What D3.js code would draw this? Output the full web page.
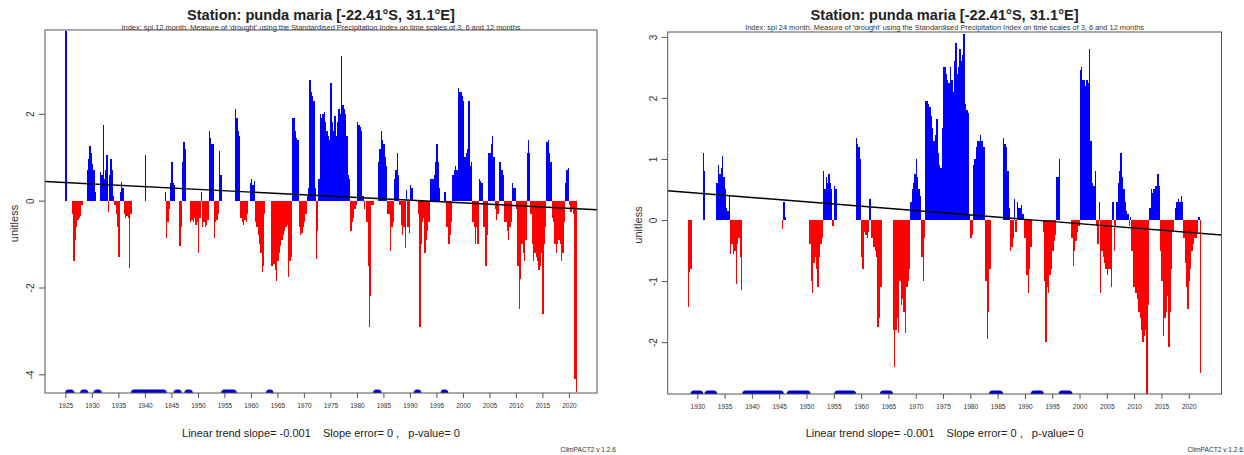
<!DOCTYPE html>
<html>
<head>
<meta charset="utf-8">
<script src="https://cdn.jsdelivr.net/npm/d3@7"></script>
<style>
  body { margin: 0; background: #fff; }
  svg { font-family: "Liberation Sans", Arial, sans-serif; }
</style>
</head>
<body>
<svg id="chart" width="1244" height="455"></svg>
<script>
// texts
var stationTitle = "Station: punda maria [-22.41°S, 31.1°E]";
var spi12Sub = "Index: spi 12 month. Measure of 'drought' using the Standardised Precipitation Index on time scales of 3, 6 and 12 months";
var spi24Sub = "Index: spi 24 month. Measure of 'drought' using the Standardised Precipitation Index on time scales of 3, 6 and 12 months";
var trendText = "Linear trend slope= -0.001    Slope error= 0 ,   p-value= 0";
var versionText = "ClimPACT2 v 1.2.6";
var yLabel = "unitless";

// quarterly steps (fraction of a year)
var step = 0.25;

// SPI 12 month, one value per quarter starting 1925.0, null = no data
var spi12Start = 1925;
var spi12 = [
  3.9, null, null, null,      // 1925
  null, -0.3, -1.4, -0.9,     // 1926
  -0.6, -0.45, -0.4, -0.35,
  -0.1, null, null, null,
  0.7, 0.95, 1.25, 1.1,
  0.85, 0.7, 0.2, null,       // 1930
  null, null, 0.65, 0.6,
  1.75, 0.5, 0.7, 1.05,
  -0.25, 0.6, 0.95, 0.7,
  0.1, -0.1, -0.3, -0.6,
  -1.3, 0.2, 0.42, 0.3,       // 1935
  -0.3, -0.4, -0.35, -0.4,
  -1.55, -0.3, null, null,
  null, null, null, null,
  null, null, null, null,
  1.05, null, null, null,     // 1940
  null, null, null, null,
  null, null, null, null,
  null, null, null, 0.2,
  -0.85, -0.5, -0.2, 0.4,
  0.9, 0.4, 0.35, null,       // 1945
  null, null, -1.05, -0.6,
  0.9, 1.35, 1.2, null,
  null, null, -0.5, -0.45,
  -0.5, -0.4, -0.55, -0.5,
  -1.2, -0.4, 0.2, -0.6,      // 1950
  -0.5, -0.6, -0.55, -0.45,
  1.6, 1.45, 1.3, 1.3,
  -0.85, -0.5, -0.45, -0.3,
  1.15, 0.6, null, null,
  null, null, null, null,     // 1955
  null, null, null, null,
  2.1, 1.9, 1.6, 1.5,
  -0.4, -0.5, -0.55, -0.45,
  -0.5, -0.3, null, 0.4,
  0.5, 0.35, 0.45, -0.5,      // 1960
  -0.6, -0.8, -1.0, -1.2,
  -1.65, -1.5, -0.3, null,
  null, null, null, -1.5,
  -1.5, -1.45, -1.6, -1.85,
  -1.4, -1.2, -1.05, -0.9,    // 1965
  -0.8, -0.7, -0.6, -0.55,
  -1.75, -1.4, -1.3, 1.9,
  1.9, 1.6, 1.45, 1.4,
  -0.6, -0.8, -0.75, -0.6,
  -0.5, -0.3, 0.1, 0.3,       // 1970
  2.78, 2.5, 2.4, 2.3,
  0.3, -1.35, -0.7, 0.5,
  2.0, 1.9, 2.0, 2.05,
  1.8, 1.6, 1.5, 1.4,
  2.7, 1.8, 1.6, 1.95,        // 1975
  1.5, 1.8, 2.1, 2.0,
  3.33, 2.2, 2.1, 2.0,
  1.5, 0.6, 0.5, -0.7,
  -0.5, -0.4, -0.2, -0.1,
  1.8, 1.75, 1.7, 1.6,        // 1980
  0.1, -0.2, null, -0.5,
  -1.5, -2.9, -2.2, -0.1,
  -0.1, null, null, null,
  0.9, 1.2, 1.6, 1.4,
  1.3, 1.0, 0.8, -0.3,        // 1985
  -0.3, -1.15, -0.6, -0.5,
  0.5, 0.7, 1.1, 0.6,
  -0.1, -0.55, -0.8, -0.6,
  -1.1, 0.25, -0.6, -0.75,
  0.35, 0.3, null, null,      // 1990
  null, null, -0.3, -2.9,
  -1.0, -0.5, -0.4, -1.2,
  -0.9, -0.7, -0.5, 0.5,
  0.5, 0.5, 0.6, 0.9,
  1.3, 0.9, 0.3, null,        // 1995
  null, null, 0.2, -0.6,
  -0.6, -1.0, -0.8, -0.5,
  0.6, 0.7, 0.8, 0.7,
  2.6, 2.5, 2.5, 2.4,
  2.3, 1.0, 1.1, 1.2,         // 2000
  2.3, 0.8, 0.9, -0.5,
  -0.6, -1.0, -0.6, -1.0,
  0.5, 0.45, 0.4, -0.6,
  -0.6, -1.5, -0.8, 1.1,
  1.1, 1.3, 1.5, 1.0,         // 2005
  -0.2, -0.45, -0.3, 0.9,
  0.9, 0.7, 0.6, -0.5,
  -0.5, -0.7, -0.9, -0.6,
  -0.5, 0.4, 0.3, 0.3,
  -0.2, -1.5, -2.5, -1.8,     // 2010
  -1.0, -1.2, -1.4, -0.9,
  1.1, 1.4, 1.1, -0.3,
  -1.0, -1.4, -1.2, -1.3,
  -1.4, -1.6, -1.5, -1.2,
  -2.6, -1.0, -0.6, 1.35,     // 2015
  1.4, 1.1, 0.9, -0.4,
  -0.5, -1.0, -1.2, -1.0,
  -0.9, -1.0, -1.4, -1.2,
  -0.5, 0.4, 0.7, 0.75,
  -0.1, -0.25, -0.2, -0.3,    // 2020
  -4.1, -4.4
];
// missing-data runs drawn along the bottom [from, to]
var spi12Missing = [
  [1925.6, 1926.04], [1928.43, 1928.68], [1930.94, 1931.21], [1938.0, 1943.47],
  [1946.04, 1946.3], [1948.11, 1948.38], [1955.04, 1956.68], [1963.5, 1963.6],
  [1983.7, 1984.0], [1991.36, 1991.5], [1996.45, 1996.6]
];
var spi12Trend = [0.44, -0.21];
var spi12YTicks = [-4, -2, 0, 2];
var spi12XTicks = [1925, 1930, 1935, 1940, 1945, 1950, 1955, 1960, 1965, 1970,
  1975, 1980, 1985, 1990, 1995, 2000, 2005, 2010, 2015, 2020];

// SPI 24 month, one value per quarter starting 1928.0
var spi24Start = 1928;
var spi24 = [
  null, -1.42, -0.85, -0.8,   // 1928
  null, null, null, null,
  null, null, null, null,     // 1930
  1.1, 0.8, null, null,
  null, null, null, null,
  null, null, 0.6, 0.9,
  0.75, 0.85, 1.05, 0.7,
  0.5, 0.2, 0.15, 0.4,        // 1935
  -0.55, -0.4, -0.55, -0.5,
  -1.05, -0.4, -0.3, -0.6,
  -1.15, null, null, null,
  null, null, null, null,
  null, null, null, null,     // 1940
  null, null, null, null,
  null, null, null, null,
  null, null, null, null,
  null, null, null, null,
  null, null, -0.15, 0.3,     // 1945
  0.05, null, null, null,
  null, null, null, null,
  null, null, null, null,
  null, null, null, null,
  null, null, -0.4, -1.0,     // 1950
  -1.2, -0.7, -0.6, -0.8,
  -1.1, -0.6, -0.4, -0.3,
  0.8, 0.5, 0.7, 0.6,
  0.75, 0.6, 0.5, -0.1,
  0.55, 0.5, null, null,      // 1955
  null, null, null, null,
  null, null, null, null,
  null, null, null, null,
  1.35, 1.25, 1.2, 1.0,
  -0.6, -0.8, -0.2, -0.25,    // 1960
  -0.3, -0.2, 0.35, -0.3,
  -0.3, -0.45, -0.5, -0.6,
  -1.75, -1.6, -1.1, null,
  null, null, null, null,
  null, null, null, -1.8,     // 1965
  -2.4, -1.8, -1.6, -1.85,
  -1.0, -1.4, -1.3, -1.5,
  -1.85, -1.1, -1.0, -0.8,
  0.3, 0.5, 0.6, 0.75,
  1.0, 0.7, 0.5, 0.4,         // 1970
  -0.6, -1.0, -0.3, 1.95,
  1.95, 1.9, 1.85, 1.7,
  1.5, 1.3, 1.4, 1.65,
  1.1, 0.9, 0.85, 1.5,
  2.5, 2.5, 2.4, 2.3,         // 1975
  2.25, 2.5, 2.3, 2.1,
  2.6, 2.9, 2.4, 2.5,
  2.8, 2.6, 2.7, 3.05,
  1.9, 1.8, 1.75, 0.1,
  -0.3, -0.25, 0.9, 1.0,      // 1980
  1.2, 1.3, 1.3, 1.4,
  1.3, 1.2, 1.2, -1.0,
  -1.95, -1.5, -0.8, null,
  null, null, null, null,
  null, null, null, null,     // 1985
  1.35, 1.25, 1.2, 0.8,
  0.2, -0.5, -0.45, -0.3,
  0.35, -0.2, 0.3, 0.2,
  0.2, 0.25, 0.1, -0.3,
  -0.3, -0.9, -1.2, -0.8,     // 1990
  -0.45, null, null, null,
  null, null, null, null,
  null, -0.2, -1.0, -2.0,
  -1.1, -1.2, -0.9, -0.8,
  -0.5, -0.35, -0.25, 0.7,    // 1995
  0.7, 1.0, null, null,
  null, null, null, null,
  null, null, -0.3, -0.75,
  -0.5, -0.35, -0.2, -0.1,
  2.45, 2.5, 2.3, 2.3,        // 2000
  2.2, 2.3, 2.25, 2.8,
  1.3, 0.6, 0.55, 0.8,
  -0.1, -0.4, 0.3, -1.2,
  -0.5, -0.6, -0.7, -0.8,
  -0.9, -0.8, -0.8, -1.1,     // 2005
  0.3, -0.5, -0.1, 0.3,
  0.6, 0.8, 1.1, 0.7,
  0.5, 0.3, 0.15, 0.1,
  -0.1, 0.05, -0.5, -1.1,
  -1.1, -1.2, -1.3, -1.5,     // 2010
  -1.6, -1.8, -2.0, -1.9,
  -1.8, -2.85, -1.4, 0.2,
  0.5, 0.45, 0.5, 0.55,
  0.55, 0.75, 0.55, -0.5,
  -1.0, -1.9, -1.6, -1.5,     // 2015
  -1.25, -2.08, -1.5, -0.8,
  -0.2, null, 0.2, 0.3,
  0.35, 0.3, 0.4, 0.3,
  -0.3, -0.7, -1.1, -1.45,
  -1.0, -0.8, -0.5, -0.4,     // 2020
  -0.3, -0.3, -0.2, 0.05,
  -2.5
];
var spi24Missing = [
  [1929.4, 1930.46], [1931.96, 1933.0], [1938.86, 1945.22], [1947.0, 1950.1],
  [1955.73, 1958.44], [1964.08, 1965.2], [1984.06, 1985.35], [1991.7, 1992.82],
  [1996.8, 1998.06]
];
var spi24Trend = [0.48, -0.246];
var spi24YTicks = [-2, -1, 0, 1, 2, 3];
var spi24XTicks = [1930, 1935, 1940, 1945, 1950, 1955, 1960, 1965, 1970, 1975,
  1980, 1985, 1990, 1995, 2000, 2005, 2010, 2015, 2020];

var svg = d3.select("#chart");

drawPanel(svg, {
  id: "a", left: 45, right: 597, top: 30, bottom: 393,
  xDomain: [1921.15, 2025.3], yDomain: [-4.43, 3.93],
  start: spi12Start, values: spi12, missing: spi12Missing, trend: spi12Trend,
  xTicks: spi12XTicks, yTicks: spi12YTicks, sub: spi12Sub,
  ylabX: 18, versionX: 616
});

drawPanel(svg, {
  id: "b", left: 667.7, right: 1221.5, top: 32, bottom: 394,
  xDomain: [1924.58, 2026.0], yDomain: [-2.85, 3.08],
  start: spi24Start, values: spi24, missing: spi24Missing, trend: spi24Trend,
  xTicks: spi24XTicks, yTicks: spi24YTicks, sub: spi24Sub,
  ylabX: 642, versionX: 1243
});

function drawPanel(svg, p) {
  var xScale = d3.scaleLinear().domain(p.xDomain).range([p.left, p.right]);
  var yScale = d3.scaleLinear().domain(p.yDomain).range([p.bottom, p.top]);
  var cx = (p.left + p.right) / 2;

  svg.append("clipPath").attr("id", "clip" + p.id)
    .append("rect")
    .attr("x", p.left).attr("y", p.top)
    .attr("width", p.right - p.left).attr("height", p.bottom - p.top);

  var plot = svg.append("g").attr("clip-path", "url(#clip" + p.id + ")");

  var bars = [];
  p.values.forEach(function(v, i) {
    if (v !== null) bars.push({year: p.start + i * step, v: v});
  });

  //spi bars, blue above zero and red below
  plot.selectAll("rect.bar")
    .data(bars)
    .enter().append("rect")
    .attr("class", "bar")
    .attr("x", function(d) { return xScale(d.year); })
    .attr("width", function(d) { return xScale(d.year + step) - xScale(d.year); })
    .attr("y", function(d) { return d.v >= 0 ? yScale(d.v) : yScale(0); })
    .attr("height", function(d) { return Math.abs(yScale(d.v) - yScale(0)); })
    .attr("fill", function(d) { return d.v >= 0 ? "#0000ff" : "#ff0000"; })
    .attr("shape-rendering", "crispEdges");

  //missing data marks on the bottom edge
  plot.selectAll("line.miss")
    .data(p.missing)
    .enter().append("line")
    .attr("class", "miss")
    .attr("x1", function(d) { return xScale(d[0]); })
    .attr("x2", function(d) { return xScale(d[1]); })
    .attr("y1", yScale(p.yDomain[0]))
    .attr("y2", yScale(p.yDomain[0]))
    .attr("stroke", "#0000cc")
    .attr("stroke-width", 7)
    .attr("stroke-linecap", "round");

  //linear trend
  plot.append("path")
    .datum(p.trend)
    .attr("fill", "none")
    .attr("stroke", "#000")
    .attr("stroke-width", 1.4)
    .attr("d", d3.line()
      .x(function(d, i) { return xScale(p.xDomain[i]); })
      .y(function(d) { return yScale(d); })
    );

  svg.append("rect")
    .attr("x", p.left).attr("y", p.top)
    .attr("width", p.right - p.left).attr("height", p.bottom - p.top)
    .attr("fill", "none").attr("stroke", "#555").attr("stroke-width", 1);

  var xAxis = d3.axisBottom(xScale)
    .tickValues(p.xTicks)
    .tickFormat(function(d) { return String(d); })
    .tickSize(5).tickPadding(4);

  var gx = svg.append("g")
    .attr("transform", "translate(0," + p.bottom + ")")
    .call(xAxis);
  gx.select(".domain").remove();
  gx.selectAll("line").attr("stroke", "#555");
  gx.selectAll("text")
    .attr("fill", "#333")
    .attr("font-size", "8px")
    .attr("font-family", "Liberation Sans, Arial, sans-serif")
    .attr("transform", "scale(0.82,1)");

  var yAxis = d3.axisLeft(yScale)
    .tickValues(p.yTicks)
    .tickFormat(function(d) { return String(d); })
    .tickSize(6);

  var gy = svg.append("g")
    .attr("transform", "translate(" + p.left + ",0)")
    .call(yAxis);
  gy.select(".domain").remove();
  gy.selectAll("line").attr("stroke", "#555");
  gy.selectAll("text")
    .attr("fill", "#333")
    .attr("font-size", "10px")
    .attr("font-family", "Liberation Sans, Arial, sans-serif")
    .attr("text-anchor", "middle")
    .attr("transform", "rotate(-90)")
    .attr("x", 0).attr("y", -11).attr("dy", null);

  svg.append("text")
    .attr("transform", "translate(" + p.ylabX + "," + ((p.top + p.bottom) / 2 + 12) + ") rotate(-90)")
    .attr("text-anchor", "middle")
    .attr("font-size", "11px")
    .attr("fill", "#333")
    .text(yLabel);

  svg.append("text")
    .attr("x", cx).attr("y", 20)
    .attr("text-anchor", "middle")
    .attr("font-size", "14.6px")
    .attr("font-weight", "bold")
    .attr("fill", "#222")
    .text(stationTitle);

  svg.append("text")
    .attr("x", cx).attr("y", 29.5)
    .attr("text-anchor", "middle")
    .attr("font-size", "7.4px")
    .attr("fill", "#333")
    .text(p.sub);

  svg.append("text")
    .attr("x", cx).attr("y", 437)
    .attr("text-anchor", "middle")
    .attr("font-size", "11px")
    .attr("fill", "#222")
    .style("white-space", "pre")
    .text(trendText);

  svg.append("text")
    .attr("x", p.versionX).attr("y", 452)
    .attr("text-anchor", "end")
    .attr("font-size", "6.6px")
    .attr("fill", "#333")
    .text(versionText);
}
</script>
</body>
</html>
